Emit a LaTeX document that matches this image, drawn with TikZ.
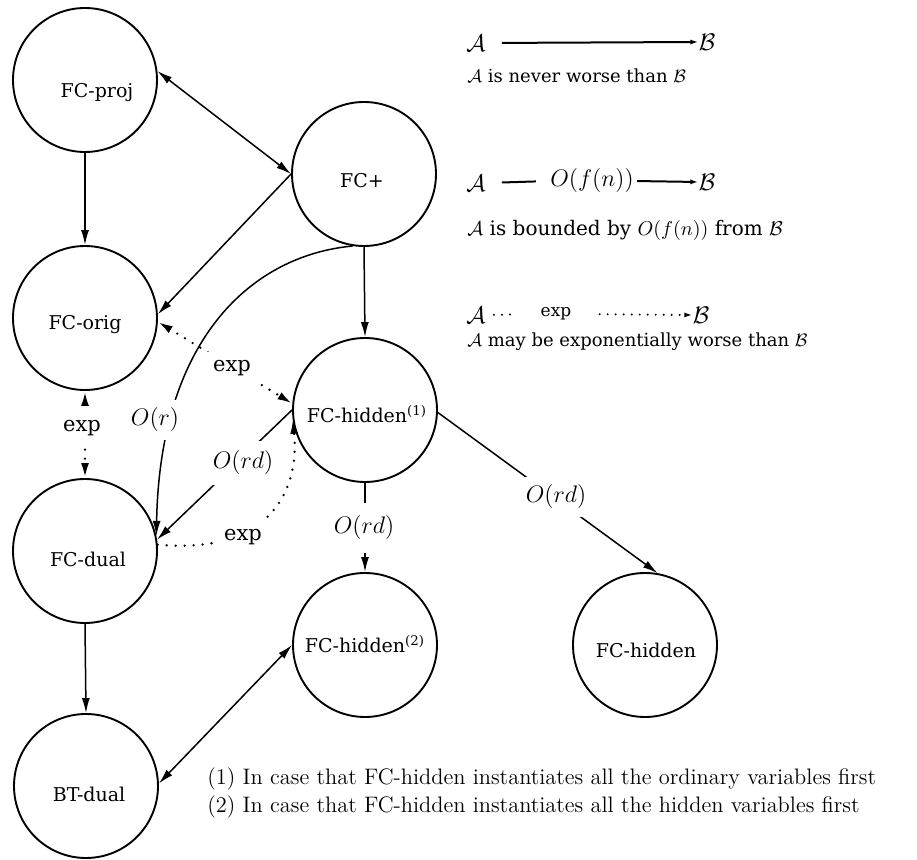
\documentclass[tikz,border=0pt]{standalone}
\usepackage{fontspec}
\newfontfamily\dvs{DejaVu Serif}
\usetikzlibrary{arrows.meta}
\begin{document}
\begin{tikzpicture}[x=0.5pt,y=-0.5pt,
  >={Latex[length=7.5pt,width=4pt]},
  circ/.style={draw,circle,minimum size=72pt,inner sep=0pt,line width=0.95pt},
  nlab/.style={anchor=base,inner sep=0pt,font=\dvs\fontsize{9.5}{11}\selectfont},
  arr/.style={->,line width=0.75pt},
  darr/.style={<->,line width=0.75pt},
  dotl/.style={line width=1.3pt,line cap=round,dash pattern=on 0pt off 4.5pt},
  elab/.style={fill=white,inner xsep=3pt,inner ysep=4pt,font=\fontsize{12}{14}\selectfont},
  xlab/.style={fill=white,inner sep=4pt,font=\dvs\fontsize{10.5}{12}\selectfont},
  lmath/.style={inner sep=0pt,font=\fontsize{13}{15}\selectfont},
  legarr/.style={-{Latex[length=4pt,width=2.5pt]},line width=1pt},
  legdots/.style={line width=1.1pt,line cap=round,dash pattern=on 0pt off 4pt},
  ltext/.style={anchor=west,inner sep=0pt,font=\dvs\fontsize{9}{11}\selectfont},
  note/.style={anchor=west,inner sep=0pt,font=\fontsize{11.2}{13}\selectfont}
]
\useasboundingbox (0,0) rectangle (917,860);

% circles
\node[circ] (proj) at (85,80) {};
\node[circ] (plus) at (364,174) {};
\node[circ] (orig) at (85,318) {};
\node[circ] (h1) at (365,410) {};
\node[circ] (dual) at (85,551) {};
\node[circ] (h2) at (365,645) {};
\node[circ] (h) at (645,645) {};
\node[circ] (bt) at (86,786) {};

% circle labels
\node[nlab] (tproj) at (97,98) {FC-proj};
\node[nlab] (tplus) at (362,188) {FC+};
\node[nlab] (torig) at (85,330) {FC-orig};
\node[nlab] (th1) at (367,423) {FC-hidden\textsuperscript{(1)}};
\node[nlab] (tdual) at (88,567) {FC-dual};
\node[nlab] (th2) at (365,653) {FC-hidden\textsuperscript{(2)}};
\node[nlab] (th) at (646,658) {FC-hidden};
\node[nlab] (tbt) at (89,802) {BT-dual};

% connectors
\draw[darr] (proj.7) -- (plus.west);
\draw[arr] (proj.south) -- (orig.north);
\draw[arr] (plus.west) -- (orig.3);
\draw[arr] (plus.south) -- (h1.north);
\draw[arr] (plus.261) .. controls (255,255) and (160,335) .. (dual.12);
\draw[arr] (h1.west) -- (dual.9);
\draw[darr,dotl] (orig.-3) -- (h1.175);
\draw[arr,dotl] (dual.5) .. controls (270,555) and (300,490) .. (h1.187);
\draw[darr,dotl] (orig.south) -- (dual.north);
\draw[arr] (dual.south) -- (bt.north);
\draw[darr] (bt.2) -- (h2.west);
\draw[arr] (h1.south) -- (h2.north);
\draw[arr] (h1.-2) -- (h.80);

% connector labels
\node[elab,minimum height=20pt] (lr) at (155,420) {$O(r)$};
\node[elab,inner ysep=5pt] (lrd1) at (243,463) {$O(rd)$};
\node[elab,minimum height=25pt] (lrd2) at (364,528) {$O(rd)$};
\node[elab] (lrd3) at (556,497) {$O(rd)$};
\node[xlab] (lx1) at (232,368) {exp};
\node[xlab] (lx2) at (82,428) {exp};
\node[xlab] (lx3) at (243,537) {exp};

% legend
\node[lmath] (la1) at (476,43) {$\mathcal{A}$};
\node[lmath] (lb1) at (707,42) {$\mathcal{B}$};
\draw[legarr,shorten <=8pt] (la1.east) -- (lb1.west);
\node[ltext] (lt1) at (467,76) {$\mathcal{A}$ is never worse than $\mathcal{B}$};

\node[lmath] (la2) at (476,183) {$\mathcal{A}$};
\node[lmath] (lf) at (592,181) {$O(f(n))$};
\node[lmath] (lb2) at (707,182) {$\mathcal{B}$};
\draw[line width=1pt,shorten <=8pt,shorten >=7pt] (la2.east) -- (lf.west);
\draw[legarr,shorten <=1.5pt] (lf.east) -- (lb2.west);
\node[ltext,font=\dvs\fontsize{10}{12}\selectfont] (lt2) at (467,230) {$\mathcal{A}$ is bounded by $O(f(n))$ from $\mathcal{B}$};

\node[lmath] (la3) at (476,315) {$\mathcal{A}$};
\node[inner sep=0pt,font=\dvs\fontsize{8.5}{10}\selectfont] (lexp) at (556,314) {exp};
\node[lmath] (lb3) at (701,315) {$\mathcal{B}$};
\draw[legdots,shorten <=4pt,shorten >=12pt] (la3.east) -- (lexp.west);
\draw[legarr,legdots,shorten <=14pt] (lexp.east) -- (lb3.west);
\node[ltext] (lt3) at (467,342) {$\mathcal{A}$ may be exponentially worse than $\mathcal{B}$};

% notes
\node[note] (n1) at (207,779) {(1) In case that FC-hidden instantiates all the ordinary variables first};
\node[note] (n2) at (207,807) {(2) In case that FC-hidden instantiates all the hidden variables first};
\end{tikzpicture}
\end{document}
